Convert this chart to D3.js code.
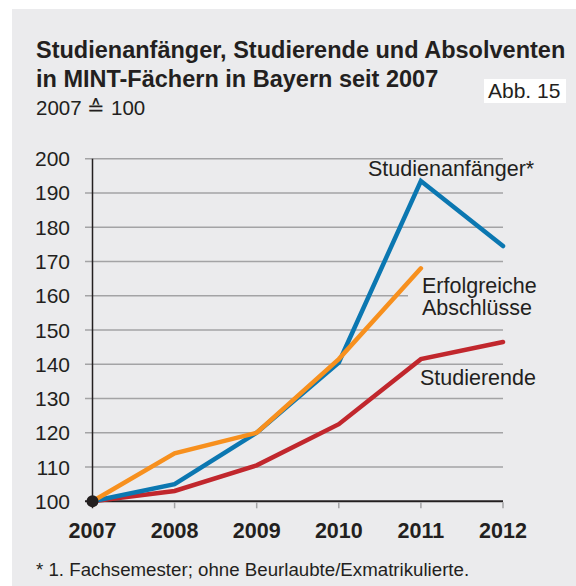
<!DOCTYPE html>
<html>
<head>
<meta charset="utf-8">
<script src="https://cdn.jsdelivr.net/npm/d3@7"></script>
<style>
body{margin:0;background:#fff;}
text{font-family:"Liberation Sans",Arial,Helvetica,sans-serif;fill:#231f20;}
</style>
</head>
<body>
<svg id="chart" width="576" height="586"></svg>
<script>
// Werte (2007 = 100)
var years = [2007, 2008, 2009, 2010, 2011, 2012];
var yTicks = [100, 110, 120, 130, 140, 150, 160, 170, 180, 190, 200];
var anfaenger = [100, 105, 120, 140.5, 193.5, 174.5];
var abschluesse = [100, 114, 120, 141.5, 168];
var studierende = [100, 103, 110.5, 122.5, 141.5, 146.5];

var svg = d3.select("#chart");

var x = d3.scaleLinear().domain([2007, 2012]).range([92.5, 503]);
var y = d3.scaleLinear().domain([100, 200]).range([501.3, 158.7]);

// hintergrund
svg.append("rect").attr("x", 12).attr("y", 9).attr("width", 564).attr("height", 577).attr("fill", "#ebebed");

// titel
svg.append("text").attr("x", 36).attr("y", 58).attr("font-size", 23.5).attr("font-weight", "bold")
    .text("Studienanfänger, Studierende und Absolventen");
svg.append("text").attr("x", 36).attr("y", 87).attr("font-size", 23.5).attr("font-weight", "bold")
    .text("in MINT-Fächern in Bayern seit 2007");
svg.append("text").attr("x", 36).attr("y", 115).attr("font-size", 20.5)
    .text("2007 \u2259 100");

svg.append("rect").attr("x", 484).attr("y", 79).attr("width", 82).attr("height", 24).attr("fill", "#fff");
svg.append("text").attr("x", 488).attr("y", 97.5).attr("font-size", 21).text("Abb. 15");

// gitter
svg.selectAll("line.grid")
    .data(yTicks.filter(function (d) { return d > 100; }))
    .enter().append("line")
    .attr("class", "grid")
    .attr("x1", 85).attr("x2", x(2012))
    .attr("y1", function (d) { return y(d); })
    .attr("y2", function (d) { return y(d); })
    .attr("stroke", "#a3a3a5").attr("stroke-width", 1.5);

svg.append("line").attr("x1", 85).attr("x2", x(2012)).attr("y1", y(100)).attr("y2", y(100))
    .attr("stroke", "#231f20").attr("stroke-width", 2);

// x ticks
svg.selectAll("line.xt")
    .data(years.slice(1))
    .enter().append("line")
    .attr("x1", function (d) { return x(d); })
    .attr("x2", function (d) { return x(d); })
    .attr("y1", y(100) + 1).attr("y2", y(100) + 7)
    .attr("stroke", "#a3a3a5").attr("stroke-width", 1.5);

svg.append("line").attr("x1", x(2007)).attr("x2", x(2007)).attr("y1", y(200)).attr("y2", y(100) + 7)
    .attr("stroke", "#231f20").attr("stroke-width", 1.5);

svg.selectAll("text.yl")
    .data(yTicks)
    .enter().append("text")
    .attr("class", "yl")
    .attr("x", 70)
    .attr("y", function (d) { return y(d) + 7.5; })
    .attr("text-anchor", "end")
    .attr("font-size", 21)
    .text(function (d) { return d; });

svg.selectAll("text.xl")
    .data(years)
    .enter().append("text")
    .attr("class", "xl")
    .attr("x", function (d) { return x(d); })
    .attr("y", 537.5)
    .attr("text-anchor", "middle")
    .attr("font-size", 21.5)
    .attr("font-weight", "bold")
    .text(function (d) { return d; });

// label hintergrund (verdeckt gitterlinie)
svg.append("rect").attr("x", 408).attr("y", 274).attr("width", 135).attr("height", 48).attr("fill", "#ebebed");

// linien
var line = d3.line()
    .x(function (d, i) { return x(years[i]); })
    .y(function (d) { return y(d); });

function drawLine(vals, col) {
    svg.append("path")
        .attr("d", line(vals))
        .attr("fill", "none")
        .attr("stroke", col)
        .attr("stroke-width", 4.5)
        .attr("stroke-linecap", "round");
}
drawLine(studierende, "#c1272d");
drawLine(anfaenger, "#0b77b1");
drawLine(abschluesse, "#f7901e");

svg.append("circle").attr("cx", x(2007)).attr("cy", y(100)).attr("r", 6).attr("fill", "#231f20");

// beschriftung
svg.append("text").attr("x", 368).attr("y", 176).attr("font-size", 21.5).text("Studienanfänger*");
svg.append("text").attr("x", 422).attr("y", 293).attr("font-size", 21.5).text("Erfolgreiche");
svg.append("text").attr("x", 422).attr("y", 315).attr("font-size", 21.5).text("Abschlüsse");
svg.append("text").attr("x", 420).attr("y", 385).attr("font-size", 21.5).text("Studierende");

svg.append("text").attr("x", 36).attr("y", 576).attr("font-size", 18.7)
    .text("* 1. Fachsemester; ohne Beurlaubte/Exmatrikulierte.");
</script>
</body>
</html>
